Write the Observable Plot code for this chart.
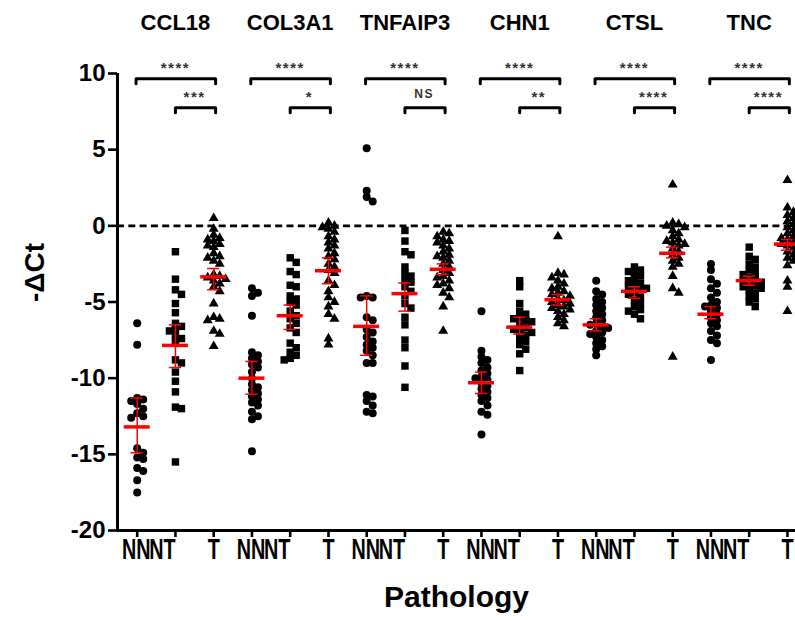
<!DOCTYPE html>
<html>
<head>
<meta charset="utf-8">
<script src="https://cdn.jsdelivr.net/npm/d3@7"></script>
<script src="https://cdn.jsdelivr.net/npm/@observablehq/plot@0.6"></script>
<style>
  html, body { margin: 0; padding: 0; background: #fff; }
  #chart { width: 795px; height: 621px; }
</style>
</head>
<body>
<div id="chart"></div>
<script>
// ---------- data ----------
const genes = ["CCL18", "COL3A1", "TNFAIP3", "CHN1", "CTSL", "TNC"];
const groups = ["NN", "NT", "T"];
const yTicks = [10, 5, 0, -5, -10, -15, -20];

const ccl18_NN = [-6.4, -7.8, -11.3, -11.4, -11.5, -11.7, -12.0, -12.3, -12.5, -12.6, -14.6, -14.9, -15.2, -15.3, -15.9, -16.1, -16.7, -17.5];
const ccl18_NT = [-1.7, -3.5, -4.2, -4.5, -5.1, -5.7, -6.4, -6.6, -6.8, -6.9, -7.2, -7.4, -7.6, -8.8, -9.0, -9.6, -10.2, -10.9, -11.9, -12.0, -15.5];
const ccl18_T = [0.5, -0.2, -0.6, -0.8, -0.9, -1.0, -1.2, -1.3, -1.4, -1.8, -2.0, -2.1, -2.3, -2.5, -3.2, -3.3, -3.4, -3.5, -3.6, -3.8, -4.0, -4.3, -5.1, -6.0, -6.1, -6.2, -6.9, -7.1, -7.9];

const col3a1_NN = [-4.1, -4.4, -4.6, -5.9, -8.3, -8.5, -8.7, -8.9, -9.1, -9.3, -9.6, -10.0, -10.4, -10.6, -10.8, -11.0, -11.2, -11.4, -11.6, -11.8, -12.2, -12.5, -12.7, -14.8];
const col3a1_NT = [-2.1, -2.4, -3.0, -3.2, -3.9, -4.0, -4.6, -4.8, -5.0, -5.2, -5.6, -5.9, -6.1, -6.4, -6.7, -7.0, -7.7, -8.0, -8.3, -8.5, -8.7, -8.8];
const col3a1_T = [0.2, 0.0, -0.1, -0.2, -0.4, -0.7, -0.9, -1.1, -1.3, -1.5, -1.8, -2.0, -2.2, -2.5, -2.7, -2.9, -3.1, -3.6, -3.9, -4.3, -4.7, -5.0, -5.3, -5.8, -6.1, -7.4, -7.8];

const tnfaip3_NN = [5.1, 2.3, 1.9, 1.6, -4.6, -4.7, -4.7, -6.0, -6.2, -6.8, -7.0, -7.3, -7.6, -7.8, -8.0, -8.2, -8.5, -9.0, -9.0, -11.1, -11.2, -11.5, -11.8, -12.2, -12.3];
const tnfaip3_NT = [-0.3, -1.0, -1.7, -1.9, -2.7, -3.1, -3.3, -3.5, -3.7, -4.0, -4.3, -4.6, -5.1, -5.4, -6.0, -6.5, -7.5, -8.0, -9.2, -10.6];
const tnfaip3_T = [-0.4, -0.5, -0.7, -0.9, -1.0, -1.1, -1.3, -1.5, -1.7, -1.9, -2.0, -2.1, -2.3, -2.5, -2.7, -2.9, -3.1, -3.3, -3.4, -3.6, -3.8, -3.9, -4.1, -4.4, -4.7, -5.3, -6.9];

const chn1_NN = [-5.6, -8.2, -8.6, -8.8, -9.0, -9.3, -9.5, -9.7, -9.9, -10.0, -10.1, -10.3, -10.5, -10.7, -10.9, -11.1, -11.3, -11.5, -11.8, -12.2, -12.4, -13.7];
const chn1_NT = [-3.6, -4.0, -5.1, -5.6, -5.8, -6.0, -6.1, -6.2, -6.3, -6.5, -6.7, -6.8, -6.9, -7.0, -7.2, -7.4, -7.6, -7.8, -8.1, -8.4, -9.5];
const chn1_T = [-0.7, -3.1, -3.2, -3.4, -3.6, -3.8, -4.0, -4.1, -4.3, -4.4, -4.5, -4.6, -4.8, -4.9, -5.0, -5.1, -5.2, -5.3, -5.4, -5.5, -5.6, -5.8, -6.0, -6.2, -6.4, -6.6];

const ctsl_NN = [-3.6, -4.3, -4.5, -4.8, -5.0, -5.2, -5.4, -5.6, -5.8, -6.0, -6.2, -6.4, -6.5, -6.6, -6.7, -6.9, -7.0, -7.1, -7.3, -7.5, -7.7, -7.9, -8.1, -8.5];
const ctsl_NT = [-2.7, -2.9, -3.0, -3.1, -3.3, -3.5, -3.6, -3.8, -3.9, -4.0, -4.1, -4.2, -4.4, -4.5, -4.7, -4.9, -5.1, -5.3, -5.5, -5.6, -5.8, -6.1];
const ctsl_T = [2.7, 0.2, 0.1, 0.0, -0.1, -0.3, -0.5, -0.7, -0.9, -1.0, -1.1, -1.2, -1.3, -1.5, -1.7, -1.9, -2.1, -2.3, -2.5, -2.7, -3.3, -4.1, -4.4, -8.6];

const tnc_NN = [-2.5, -2.9, -3.5, -3.8, -4.1, -4.4, -4.7, -5.0, -5.2, -5.3, -5.4, -5.6, -5.8, -6.0, -6.2, -6.4, -6.6, -6.9, -7.2, -7.5, -7.7, -8.8];
const tnc_NT = [-1.4, -2.0, -2.2, -2.5, -2.7, -2.9, -3.1, -3.2, -3.4, -3.5, -3.6, -3.7, -3.8, -3.9, -4.0, -4.1, -4.2, -4.4, -4.6, -4.8, -5.0, -5.3];
const tnc_T = [3.0, 1.2, 0.9, 0.7, 0.5, 0.3, 0.1, -0.1, -0.3, -0.5, -0.7, -0.8, -0.9, -1.0, -1.1, -1.2, -1.3, -1.5, -1.7, -1.9, -2.1, -2.3, -2.6, -3.6, -4.0, -5.6];

// central line (red) and error bar ends, per gene in order of genes
const meanNN = [-13.2, -10.0, -6.6, -10.3, -6.5, -5.8];
const meanNT = [-7.85, -5.9, -4.45, -6.65, -4.3, -3.6];
const meanT  = [-3.35, -2.95, -2.85, -4.85, -1.8, -1.2];
const loNN = [-14.9, -11.05, -8.5, -11.0, -6.9, -6.1];
const hiNN = [-11.3, -8.9, -4.6, -9.6, -6.1, -5.3];
const loNT = [-9.3, -6.8, -5.6, -7.1, -4.75, -3.9];
const hiNT = [-6.5, -5.2, -3.75, -6.0, -4.0, -3.3];
const loT  = [-4.2, -3.8, -3.2, -5.2, -2.1, -1.6];
const hiT  = [-2.8, -2.1, -2.5, -4.5, -1.4, -0.9];

// significance labels: NN vs T (outer) and NT vs T (inner)
const sigOuter = ["****", "****", "****", "****", "****", "****"];
const sigInner = ["***", "*", "NS", "**", "****", "****"];

// ---------- layout ----------
const W = 795, H = 621;
const mL = 117, mR = 0, mT = 73, mB = 91;
const pxPerIdx = 38.25;
const x0 = -(136.7 - mL) / pxPerIdx;
const x1 = x0 + (W - mL - mR) / pxPerIdx;
const pxPerY = (H - mB - mT) / 30;
const FONT = "'Liberation Sans', Arial, Helvetica, sans-serif";

const series = [
  [ccl18_NN, ccl18_NT, ccl18_T],
  [col3a1_NN, col3a1_NT, col3a1_T],
  [tnfaip3_NN, tnfaip3_NT, tnfaip3_T],
  [chn1_NN, chn1_NT, chn1_T],
  [ctsl_NN, ctsl_NT, ctsl_T],
  [tnc_NN, tnc_NT, tnc_T]
];

// deterministic scatter spread (no randomness): avoid overlaps inside each column
function spread(vals) {
  const placed = [];
  const off = new Array(vals.length).fill(0);
  const order = vals.map((v, i) => i).sort((a, b) => vals[b] - vals[a]);
  const cands = [0, 6, -6, 12, -12, 3, -3, 9, -9];
  for (const i of order) {
    const py = vals[i] * pxPerY;
    let best = 0, bestD = -1;
    for (const c of cands) {
      let dmin = Infinity;
      for (const p of placed) {
        const d = Math.hypot(c - p[0], py - p[1]);
        if (d < dmin) dmin = d;
      }
      if (dmin >= 6) { best = c; bestD = Infinity; break; }
      if (dmin > bestD) { bestD = dmin; best = c; }
    }
    placed.push([best, py]);
    off[i] = best;
  }
  return off;
}

const points = [];
series.forEach((gs, gi) => {
  gs.forEach((vals, k) => {
    const off = spread(vals);
    vals.forEach((v, j) => points.push({gene: genes[gi], group: groups[k], k, idx: gi * 3 + k, xo: gi * 3 + k + off[j] / pxPerIdx, v}));
  });
});

const summary = [];
const meansAll = [meanNN, meanNT, meanT], losAll = [loNN, loNT, loT], hisAll = [hiNN, hiNT, hiT];
genes.forEach((g, gi) => groups.forEach((grp, k) => summary.push({idx: gi * 3 + k, mean: meansAll[k][gi], lo: losAll[k][gi], hi: hisAll[k][gi]})));

const tickIdx = d3.range(genes.length * groups.length);
const labelRows = tickIdx.map(i => ({idx: i, label: groups[i % 3], k: i % 3}));

// brackets
const yOuter = 9.65, yInner = 7.75, lip = 0.33;
const bracketPts = [];
genes.forEach((g, gi) => {
  const a = gi * 3, b = gi * 3 + 1, c = gi * 3 + 2;
  [[a - 0.03, c + 0.05, yOuter, "o" + gi], [b, c + 0.05, yInner, "i" + gi]].forEach(([xa, xb, yb, id]) => {
    bracketPts.push({id, x: xa, y: yb - lip}, {id, x: xa, y: yb}, {id, x: xb, y: yb}, {id, x: xb, y: yb - lip});
  });
});
const outerLabels = genes.map((g, gi) => ({x: gi * 3 + 1, label: sigOuter[gi]}));
const innerLabels = genes.map((g, gi) => ({x: gi * 3 + 1.5, label: sigInner[gi]}));

const red = "#ff0000";

const chart = Plot.plot({
  width: W, height: H,
  marginLeft: mL, marginRight: mR, marginTop: mT, marginBottom: mB,
  style: {fontFamily: FONT, background: "#fff", color: "#000", overflow: "visible"},
  x: {type: "linear", domain: [x0, x1]},
  y: {domain: [-20, 10]},
  marks: [
    // zero reference line
    Plot.ruleY([0], {x1: x0, x2: x1, stroke: "#000", strokeWidth: 2.6, strokeDasharray: "7,4.3"}),
    // axes lines
    Plot.ruleX([x0], {y1: -20, y2: 10, stroke: "#000", strokeWidth: 3}),
    Plot.ruleY([-20], {x1: x0, x2: x1, stroke: "#000", strokeWidth: 3}),
    Plot.axisY({ticks: yTicks, tickSize: 9, tickPadding: 3, fontSize: 24, fontWeight: "bold", strokeWidth: 2.6, label: null, tickFormat: d => String(d)}),
    Plot.axisX({ticks: tickIdx, tickSize: 7, strokeWidth: 2.6, tickFormat: () => "", label: null}),
    // x tick labels
    ...[0, 1, 2].map(k => Plot.text(labelRows.filter(d => d.k === k), {
      x: "idx", y: -20, text: "label", dy: 19, dx: [-1, -13, 0][k],
      fontSize: 30, fontWeight: "bold", lineAnchor: "middle", textAnchor: "middle", className: "xlab"
    })),
    // axis titles
    Plot.text(["Pathology"], {frameAnchor: "bottom", dy: 67, lineAnchor: "middle", fontSize: 30, fontWeight: "bold"}),
    Plot.text(["-ΔCt"], {frameAnchor: "left", dx: -82, rotate: -90, lineAnchor: "middle", fontSize: 28, fontWeight: "bold"}),
    // gene titles
    Plot.text(genes, {x: (d, i) => i * 3 + 1, frameAnchor: "top", dy: -51, lineAnchor: "middle", fontSize: 22, fontWeight: "bold"}),
    // brackets and stars
    Plot.line(bracketPts, {x: "x", y: "y", z: "id", stroke: "#000", strokeWidth: 3, strokeLinejoin: "round", strokeLinecap: "round"}),
    Plot.text(outerLabels, {x: "x", y: yOuter, text: "label", dy: -11, fontSize: 15, fontWeight: "bold", fill: "#333", lineAnchor: "middle", className: "stars"}),
    Plot.text(innerLabels.filter(d => d.label !== "NS"), {x: "x", y: yInner, text: "label", dy: -11, fontSize: 15, fontWeight: "bold", fill: "#333", lineAnchor: "middle", className: "stars"}),
    Plot.text(innerLabels.filter(d => d.label === "NS"), {x: "x", y: yInner, text: "label", dy: -14, fontSize: 12, fontWeight: "bold", fill: "#333", lineAnchor: "middle", className: "stars"}),
    // data points
    Plot.dot(points.filter(d => d.k === 0), {x: "xo", y: "v", symbol: "circle", r: 4, fill: "#000", stroke: "none"}),
    Plot.dot(points.filter(d => d.k === 1), {x: "xo", y: "v", symbol: "square", r: 4.2, fill: "#000", stroke: "none"}),
    Plot.dot(points.filter(d => d.k === 2), {x: "xo", y: "v", symbol: "triangle", r: 3.7, fill: "#000", stroke: "none"}),
    // error bars and central lines
    Plot.ruleX(summary, {x: "idx", y1: "lo", y2: "hi", stroke: red, strokeWidth: 1.5}),
    Plot.ruleY(summary, {y: "lo", x1: d => d.idx - 0.16, x2: d => d.idx + 0.16, stroke: red, strokeWidth: 1.5}),
    Plot.ruleY(summary, {y: "hi", x1: d => d.idx - 0.16, x2: d => d.idx + 0.16, stroke: red, strokeWidth: 1.5}),
    Plot.ruleY(summary, {y: "mean", x1: d => d.idx - 0.34, x2: d => d.idx + 0.34, stroke: red, strokeWidth: 3.5})
  ]
});

document.getElementById("chart").appendChild(chart);

// horizontally condense the x tick labels like the original's narrow lettering
const sx = 0.66;
chart.querySelectorAll("g.xlab text").forEach(t => {
  const tr = t.getAttribute("transform");
  if (tr) {
    t.setAttribute("transform", tr + ` scale(${sx},1)`);
  } else {
    const x = +t.getAttribute("x") || 0;
    t.setAttribute("x", x / sx);
    t.setAttribute("transform", `scale(${sx},1)`);
  }
});
chart.querySelectorAll("g.stars text").forEach(t => t.style.letterSpacing = "1.5px");
</script>
</body>
</html>
